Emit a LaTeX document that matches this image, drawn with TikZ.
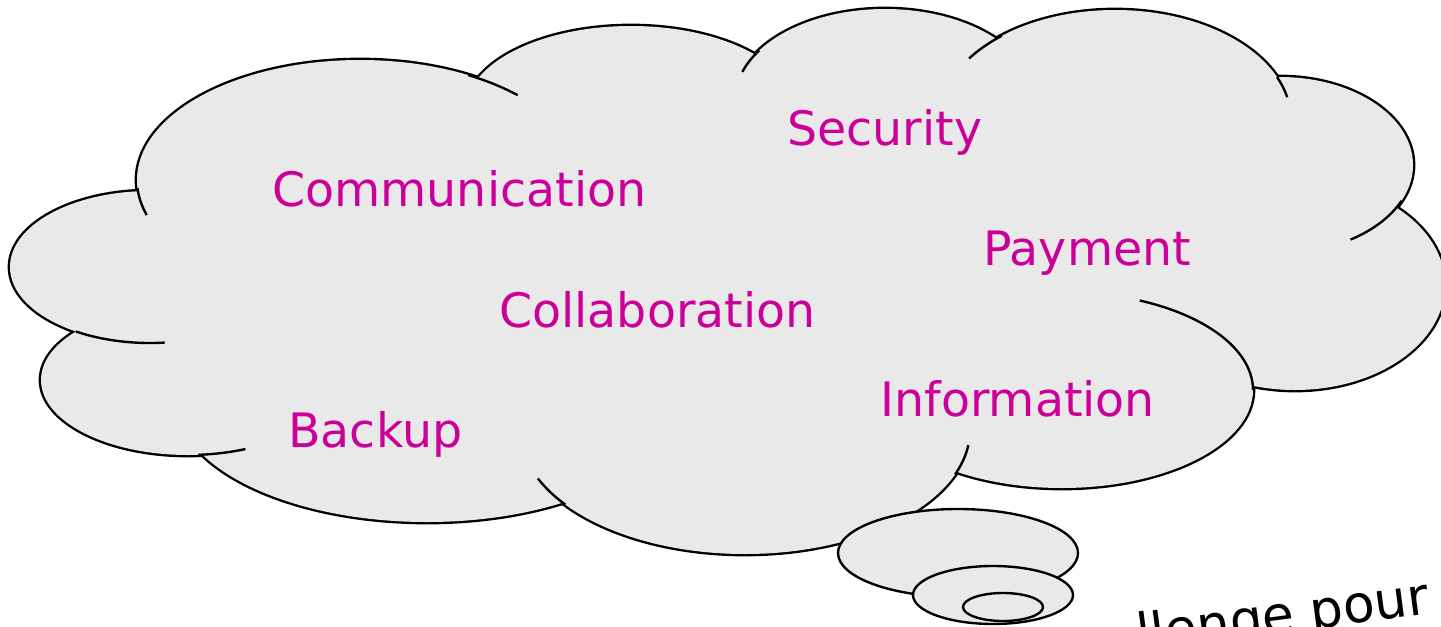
\documentclass[tikz,border=0pt]{standalone}
\usepackage{fontspec}
\setmainfont{DejaVu Sans}
\definecolor{mag}{RGB}{204,0,153}
\definecolor{cloudgray}{RGB}{233,233,233}
\tikzset{
  lab/.style={text=mag, inner sep=0pt, anchor=base west, font=\fontsize{27}{32}\selectfont},
  outerline/.style={line width=2.7pt, draw=black},
  innerline/.style={line width=1.35pt, draw=black},
  bubble/.style={line width=1.35pt, draw=black, fill=cloudgray}
}
\begin{document}
\begin{tikzpicture}[x=0.02cm, y=-0.02cm]
\useasboundingbox (0,0) rectangle (1441,626);
% cloud lobes: outer outline by thick stroke then fill
\foreach \cx/\cy/\rx/\ry in {150/267/140/76, 360/180/223/120, 631/110/165/84, 885/100/150/91, 1115/120/176/110, 1280/165/133/88, 1295/285/150/105, 1062/390/191/98, 745/430/225/124, 427/400/251/122, 188/380/147/75}
  \draw[outerline] (\cx,\cy) ellipse [x radius=\rx, y radius=\ry];
\fill[cloudgray] (150,267) -- (360,180) -- (631,110) -- (885,100) -- (1115,120) -- (1280,165) -- (1295,285) -- (1062,390) -- (745,430) -- (427,400) -- (188,380) -- cycle;
\foreach \cx/\cy/\rx/\ry in {150/267/140/76, 360/180/223/120, 631/110/165/84, 885/100/150/91, 1115/120/176/110, 1280/165/133/88, 1295/285/150/105, 1062/390/191/98, 745/430/225/124, 427/400/251/122, 188/380/147/75}
  \fill[cloudgray] (\cx,\cy) ellipse [x radius=\rx, y radius=\ry];
% inner arcs of the cloud
\foreach \cx/\cy/\rx/\ry/\ta/\tb in {150/267/140/76/84/122, 360/180/223/120/163/176, 360/180/223/120/-61/-45, 885/100/150/91/198/213, 1115/120/176/110/214/230, 1115/120/176/110/-23/-12, 1280/165/133/88/24/58, 1062/390/191/98/-66/0, 745/430/225/124/7/21, 745/430/225/124/143/157, 188/380/147/75/67/86}
  \draw[innerline] plot[smooth, domain=\ta:\tb, samples=20] ({\cx+\rx*cos(\x)},{\cy+\ry*sin(\x)});
% thought bubbles
\draw[bubble] (958,553) ellipse [x radius=120, y radius=44];
\draw[bubble] (993,595) ellipse [x radius=80, y radius=29];
\draw[bubble] (1003,607) ellipse [x radius=40, y radius=14];
% labels
\node[lab] (comm) at (272,206) {Communication};
\node[lab] (secu) at (787,145) {Security};
\node[lab] (paym) at (983,265) {Payment};
\node[lab] (coll) at (499,327) {Collaboration};
\node[lab] (info) at (880,416) {Information};
\node[lab] (back) at (288,447) {Backup};
\node[inner sep=0pt, anchor=base west, rotate=7.5, font=\fontsize{29.5}{35}\selectfont] (pour) at (1139,652) {llenge pour};
\end{tikzpicture}
\end{document}
